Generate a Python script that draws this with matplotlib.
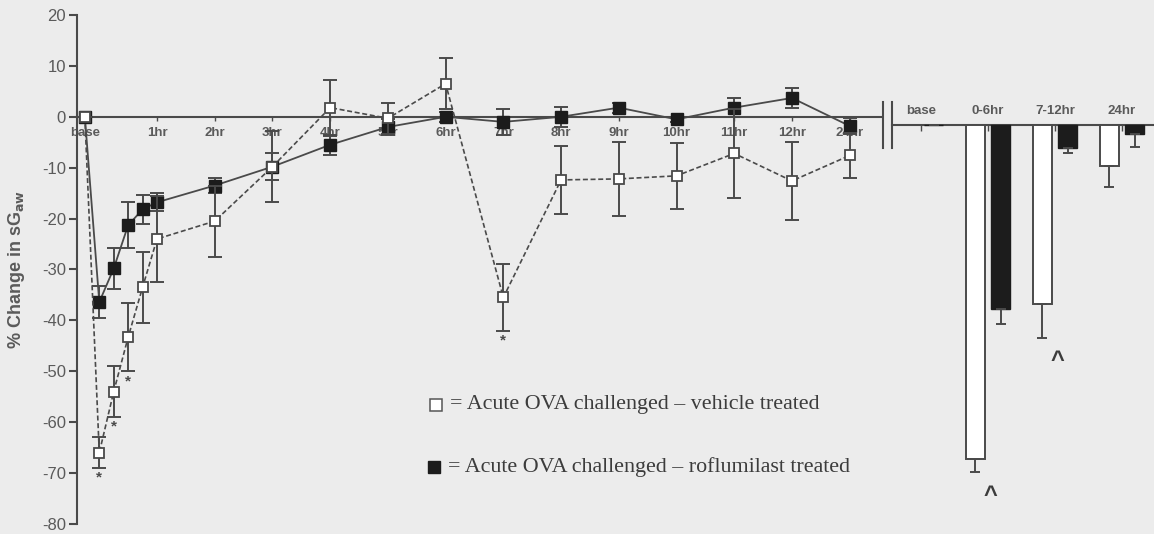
import matplotlib.pyplot as plt

# sampling times in hours; "base" is plotted a quarter-hour before challenge
times = [-0.25, 0.0, 0.25, 0.5, 0.75, 1, 2, 3, 4, 5, 6, 7, 8, 9, 10, 11, 12, 13]
tick_pos = [-0.25, 1, 2, 3, 4, 5, 6, 7, 8, 9, 10, 11, 12, 13]
tick_labels = ["base", "1hr", "2hr", "3hr", "4hr", "5hr", "6hr", "7hr",
               "8hr", "9hr", "10hr", "11hr", "12hr", "24hr"]

# % change in sGaw, mean and SEM
vehicle_mean = [0, -66, -54, -43.3, -33.5, -24, -20.5, -9.8, 1.8, -0.3, 6.5,
                -35.5, -12.4, -12.2, -11.6, -7.2, -12.6, -7.6]
vehicle_sem = [0, 3, 5, 6.7, 7, 8.5, 7, 7, 5.5, 3, 5, 6.5, 6.7, 7.2, 6.5, 8.7, 7.7, 4.4]
roflu_mean = [0, -36.4, -29.8, -21.3, -18.2, -16.8, -13.5, -9.8, -5.5, -2, 0,
              -1, 0, 1.8, -0.5, 1.8, 3.7, -1.8]
roflu_sem = [0, 3.2, 4, 4.5, 2.8, 1.8, 1.5, 2.7, 2, 1.5, 1, 2.5, 2, 1, 0.5, 1.8, 2, 1.5]
star_idx = [1, 2, 3, 11]

# area under the curve per period
periods = ["base", "0-6hr", "7-12hr", "24hr"]
auc_vehicle = [0, -65.5, -35.2, -8]
auc_vehicle_err = [0, 2.7, 6.5, 4.2]
auc_roflu = [0, -36, -4.5, -1.8]
auc_roflu_err = [0, 3, 1, 2.4]
caret_idx = [1, 2]

BG = "#ececec"
LINE = "#4a4a4a"
TXT = "#5a5a5a"
DARK = "#1c1c1c"
W, H = 1154, 534

plt.rcParams["font.family"] = ["Liberation Sans", "DejaVu Sans"]
plt.rcParams["axes.unicode_minus"] = False

fig = plt.figure(figsize=(W / 100, H / 100), dpi=100)
fig.patch.set_facecolor(BG)

# time course panel
ax = fig.add_axes([77 / W, 10 / H, 805 / W, 509 / H])
ax.set_facecolor(BG)
ax.set_xlim(-0.386, 13.56)
ax.set_ylim(-80, 20)
for s in ["top", "right"]:
    ax.spines[s].set_visible(False)
ax.spines["bottom"].set_position(("data", 0))
ax.spines["bottom"].set_color(LINE)
ax.spines["left"].set_color(LINE)
ax.spines["bottom"].set_linewidth(1.5)
ax.spines["left"].set_linewidth(1.5)

ax.set_yticks(range(-80, 21, 10))
ax.tick_params(axis="y", direction="out", length=6, width=1.5, color=LINE,
               labelcolor=TXT, labelsize=12, pad=2)
ax.set_xticks(tick_pos)
ax.set_xticklabels(tick_labels, fontweight="bold")
ax.tick_params(axis="x", direction="out", length=3, width=1, color=LINE,
               labelcolor=TXT, labelsize=9.5, pad=4)

ax.set_ylabel(r"% Change in sG$_{\mathbf{aw}}$", fontsize=13, fontweight="bold",
              color=TXT)
ax.yaxis.set_label_coords(-0.0625, 0.5)

# roflumilast first so the open squares sit on top
ax.errorbar(times, roflu_mean, yerr=roflu_sem, fmt="none", ecolor=LINE,
            elinewidth=1.4, capsize=4.7, capthick=1.4, zorder=2)
ax.plot(times, roflu_mean, ls="-", lw=1.3, color=LINE, marker="s",
        ms=8, mfc=DARK, mec=DARK, mew=1, zorder=3)
ax.errorbar(times, vehicle_mean, yerr=vehicle_sem, fmt="none", ecolor=LINE,
            elinewidth=1.4, capsize=4.7, capthick=1.4, zorder=4)
ax.plot(times, vehicle_mean, ls=(0, (3, 1.6)), lw=1.2, color=LINE, marker="s",
        ms=7.5, mfc="white", mec=LINE, mew=1.3, zorder=5)

for i in star_idx:
    ax.text(times[i], vehicle_mean[i] - vehicle_sem[i] - 1.9, "*", ha="center",
            va="center", fontsize=11, fontweight="bold", color=LINE)

# key
ax.plot([0.446], [0.234], transform=ax.transAxes, marker="s", ms=9, mfc="white",
        mec="#555555", mew=1.1, clip_on=False)
ax.plot([0.4435], [0.112], transform=ax.transAxes, marker="s", ms=9, mfc=DARK,
        mec=DARK, clip_on=False)
ax.text(0.463, 0.234, "= Acute OVA challenged \u2013 vehicle treated",
        transform=ax.transAxes, family="Liberation Serif", fontsize=15.8,
        color="#3c3c3c", va="center")
ax.text(0.461, 0.112, "= Acute OVA challenged \u2013 roflumilast treated",
        transform=ax.transAxes, family="Liberation Serif", fontsize=15.8,
        color="#3c3c3c", va="center")

# period bar panel
ax2 = fig.add_axes([892 / W, 1.5 / H, 262 / W, 509 / H])
ax2.set_facecolor("none")
ax2.set_xlim(-0.433, 3.478)
ax2.set_ylim(-80, 20)
for s in ["top", "right", "left"]:
    ax2.spines[s].set_visible(False)
ax2.spines["bottom"].set_position(("data", 0))
ax2.spines["bottom"].set_color(LINE)
ax2.spines["bottom"].set_linewidth(1.5)
ax2.set_yticks([])
xs = list(range(len(periods)))
ax2.set_xticks(xs)
ax2.set_xticklabels([])
ax2.tick_params(axis="x", direction="out", length=4, width=1, color=LINE)

off, bw = 0.187, 0.28
ax2.bar([x - off for x in xs], auc_vehicle, width=bw, color="white",
        edgecolor=LINE, linewidth=1.4, zorder=3,
        yerr=[auc_vehicle_err, [0] * 4],
        error_kw=dict(ecolor=LINE, elinewidth=1.4, capsize=3.5, capthick=1.4))
ax2.bar([x + off for x in xs], auc_roflu, width=bw, color=DARK,
        edgecolor=DARK, linewidth=1, zorder=3,
        yerr=[auc_roflu_err, [0] * 4],
        error_kw=dict(ecolor=LINE, elinewidth=1.4, capsize=3.5, capthick=1.4))

for x, lab in zip(xs, periods):
    ax2.text(x, 2.2, lab, ha="center", va="baseline", fontsize=9.5,
             fontweight="bold", color=TXT)

for i in caret_idx:
    ax2.text(xs[i] + 0.04, auc_vehicle[i] - auc_vehicle_err[i] - 2.2, "^",
             ha="center", va="top", fontsize=17, fontweight="bold",
             color="#3c3c3c")

# axis break
for bx in [-0.433, -0.567]:
    ax2.plot([bx, bx], [4.5, -4.5], color=LINE, lw=1.5, clip_on=False)

fig.savefig("out.png", dpi=100, facecolor=BG)
